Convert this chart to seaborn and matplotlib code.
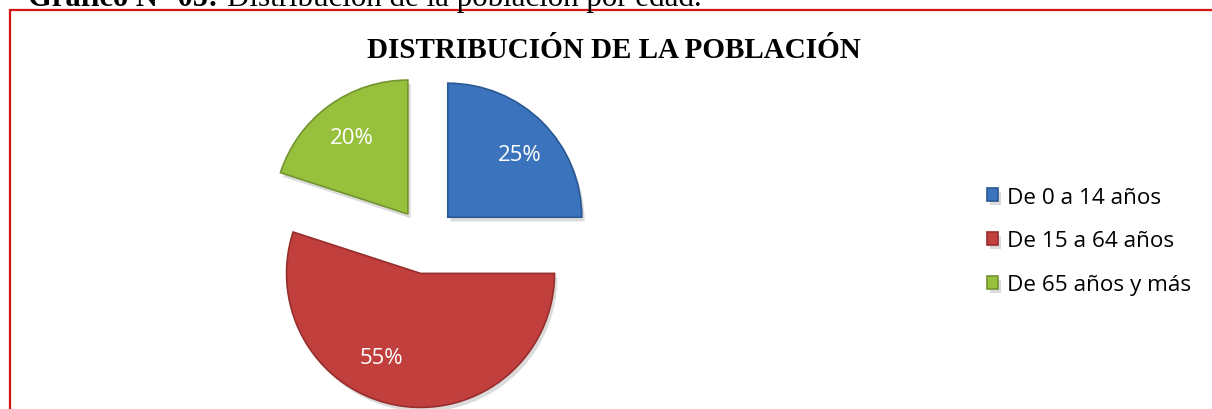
import matplotlib
matplotlib.use("Agg")
import numpy as np
import matplotlib.pyplot as plt
import matplotlib.patheffects as pe
from matplotlib.patches import Rectangle
import seaborn as sns

sns.set_theme(style="white")
plt.rcParams['font.family'] = ['Open Sans', 'DejaVu Sans']
plt.rcParams['text.color'] = 'black'

# data
categories = ['De 0 a 14 años', 'De 15 a 64 años', 'De 65 años y más']
values = [25, 55, 20]
colors = ['#3b73bd', '#c13f3c', '#97c03d']
edge_colors = ['#2b5892', '#962e2c', '#739430']
title = 'DISTRIBUCIÓN DE LA POBLACIÓN'

W, H = 1212, 410
fig = plt.figure(figsize=(W / 100, H / 100), dpi=100)
fig.patch.set_facecolor('white')

# caption from the document, cut at the top
fig.text(218 / W, 1 - 6 / H, 'Gráfico N° 05:', family='Liberation Serif',
         fontweight='bold', fontsize=22, va='baseline', ha='right', color='black')
fig.text(227 / W, 1 - 6 / H, 'Distribución de la población por edad.',
         family='Liberation Serif', fontsize=22.3, va='baseline', ha='left', color='black')

# red frame of the chart area
fig.patches.append(Rectangle((10 / W, -0.1), 1.2, 1.1 - 11 / H,
                             transform=fig.transFigure, fill=False,
                             edgecolor='#d41515', linewidth=1.6))

fig.text(614 / W, 1 - 50 / H, title, family='Liberation Serif',
         fontweight='bold', fontsize=21, ha='center', va='center', color='black')

# pie axes: centre ~ (426, 240) px, radius ~134 px
r = 134
L = 1.5
cx, cy = 426, H - 240
ax = fig.add_axes([(cx - L * r) / W, (cy - L * r) / H, 2 * L * r / W, 2 * L * r / H])
wedges, texts, autotexts = ax.pie(
    values, colors=colors, startangle=90, counterclock=False,
    explode=[0.23, 0.26, 0.23], autopct='%1.0f%%', pctdistance=0.71,
    wedgeprops=dict(linewidth=1.2),
    textprops=dict(color='white', fontsize=16))
for w, ec in zip(wedges, edge_colors):
    w.set_edgecolor(ec)
    w.set_path_effects([pe.SimplePatchShadow(offset=(2, -3), shadow_rgbFace='#888888', alpha=0.3),
                        pe.Normal()])

# label placement tweaks to follow the reference
w = wedges[1]
ang = np.deg2rad(w.theta1 + (w.theta2 - w.theta1) * 0.42)
autotexts[1].set_position((w.center[0] + 0.69 * np.cos(ang), w.center[1] + 0.69 * np.sin(ang)))
w = wedges[0]
ang = np.deg2rad((w.theta1 + w.theta2) / 2 - 4)
autotexts[0].set_position((w.center[0] + 0.71 * np.cos(ang), w.center[1] + 0.71 * np.sin(ang)))

ax.set_xlim(-L, L)
ax.set_ylim(-L, L)
ax.axis('off')

leg = fig.legend(wedges, categories, loc='center left',
                 bbox_to_anchor=(978 / W, 1 - 242 / H), frameon=False,
                 fontsize=16.2, handlelength=0.5, handleheight=0.5,
                 handletextpad=0.4, labelspacing=1.02, borderaxespad=0)
for t in leg.get_texts():
    t.set_color('black')

fig.savefig('out.png', dpi=100, facecolor='white')
